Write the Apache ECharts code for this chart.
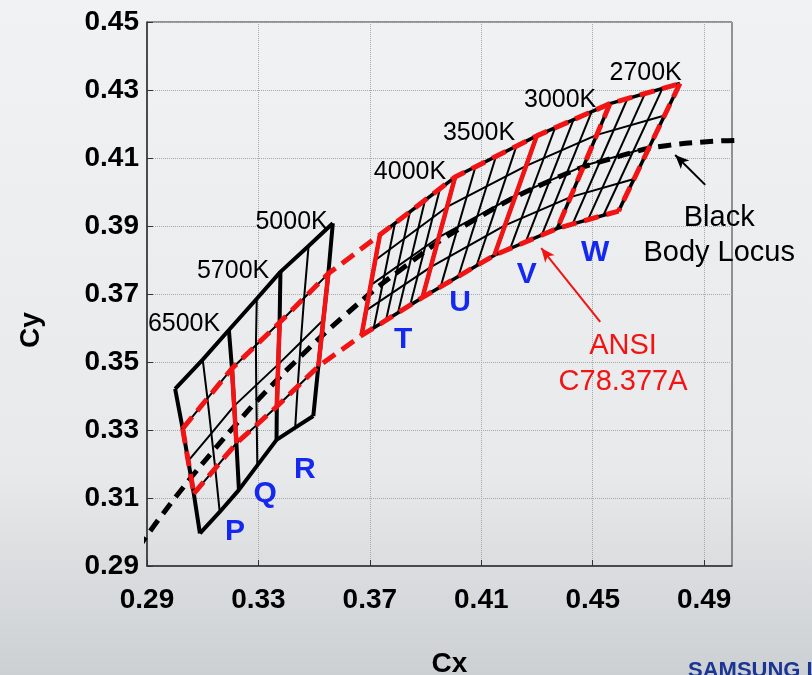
<!DOCTYPE html>
<html>
<head>
<meta charset="utf-8">
<script src="https://cdn.jsdelivr.net/npm/echarts@6/dist/echarts.min.js"></script>
<style>
  html, body { margin: 0; padding: 0; }
  #chart { width: 812px; height: 675px; }
</style>
</head>
<body>
<div id="chart"></div>
<script>
// ---- axes -------------------------------------------------------------
const xTicks = [0.29, 0.33, 0.37, 0.41, 0.45, 0.49];
const xMax = 0.50;
const yTicks = [0.29, 0.31, 0.33, 0.35, 0.37, 0.39, 0.41, 0.43, 0.45];

// ---- Planckian (black body) locus, CIE 1931 -----------------------------
const locusX = [0.2869, 0.2952, 0.3064, 0.3135, 0.3221, 0.3323, 0.3451, 0.3607, 0.3805, 0.4053, 0.4369, 0.4599, 0.4770, 0.5019];
const locusY = [0.2953, 0.3048, 0.3166, 0.3236, 0.3318, 0.3410, 0.3516, 0.3635, 0.3768, 0.3907, 0.4041, 0.4106, 0.4137, 0.4152];

// ---- ANSI C78.377A quadrangles: upper / lower corners, left to right ------
const ansiCct = ['6500K', '5700K', '5000K', '4000K', '3500K', '3000K', '2700K'];
const ansiUpper = [[0.3028, 0.3304], [0.3205, 0.3481], [0.3376, 0.3616], [0.3551, 0.3760],
                   [0.3736, 0.3874], [0.4006, 0.4044], [0.4299, 0.4165], [0.4562, 0.4260], [0.4813, 0.4319]];
const ansiLower = [[0.3068, 0.3113], [0.3221, 0.3261], [0.3366, 0.3369], [0.3515, 0.3487],
                   [0.3670, 0.3578], [0.3889, 0.3690], [0.4147, 0.3814], [0.4373, 0.3893], [0.4593, 0.3944]];

// ---- P / Q / R bins: seven CCT lines, five nodes each (top to bottom) ----
const pqrColumns = [
  [[0.3001, 0.3421], [0.3028, 0.3304], [0.3048, 0.3209], [0.3068, 0.3113], [0.3090, 0.2996]],
  [[0.3100, 0.3507], [0.3117, 0.3393], [0.3131, 0.3290], [0.3145, 0.3187], [0.3161, 0.3059]],
  [[0.3194, 0.3594], [0.3205, 0.3481], [0.3213, 0.3371], [0.3221, 0.3261], [0.3230, 0.3124]],
  [[0.3294, 0.3686], [0.3291, 0.3549], [0.3292, 0.3432], [0.3294, 0.3315], [0.3296, 0.3196]],
  [[0.3379, 0.3765], [0.3376, 0.3616], [0.3371, 0.3493], [0.3366, 0.3369], [0.3365, 0.3271]],
  [[0.3480, 0.3841], [0.3464, 0.3688], [0.3452, 0.3558], [0.3441, 0.3428], [0.3432, 0.3307]],
  [[0.3567, 0.3908], [0.3551, 0.3760], [0.3533, 0.3624], [0.3515, 0.3487], [0.3497, 0.3341]]
];

// ---- T / U / V / W sub-bins (4000K .. 2700K) -----------------------------
// Inner Duv rows, one node on each quadrangle boundary
const tuvwRows = [
  [[0.3720, 0.3800], [0.3977, 0.3956], [0.4261, 0.4077], [0.4515, 0.4168], [0.4758, 0.4225]],
  [[0.3703, 0.3726], [0.3948, 0.3867], [0.4223, 0.3990], [0.4468, 0.4077], [0.4703, 0.4132]],
  [[0.3687, 0.3652], [0.3918, 0.3779], [0.4185, 0.3902], [0.4420, 0.3985], [0.4648, 0.4038]]
];
// Inner CCT steps: [upper end, lower end]
const tuvwSteps = [
  [[0.3790, 0.3908], [0.3714, 0.3600]],
  [[0.3844, 0.3942], [0.3758, 0.3623]],
  [[0.3898, 0.3976], [0.3801, 0.3645]],
  [[0.3952, 0.4010], [0.3845, 0.3668]],
  [[0.4079, 0.4074], [0.3954, 0.3721]],
  [[0.4153, 0.4105], [0.4018, 0.3752]],
  [[0.4226, 0.4135], [0.4083, 0.3783]],
  [[0.4365, 0.4189], [0.4204, 0.3834]],
  [[0.4431, 0.4213], [0.4260, 0.3854]],
  [[0.4496, 0.4236], [0.4317, 0.3873]],
  [[0.4625, 0.4275], [0.4428, 0.3906]],
  [[0.4688, 0.4290], [0.4483, 0.3919]],
  [[0.4750, 0.4304], [0.4538, 0.3931]]
];

// ---- annotations ---------------------------------------------------------
const cctLabelAt = [[0.3033, 0.3612], [0.3209, 0.3768], [0.3419, 0.3910], [0.3844, 0.4059],
                    [0.4092, 0.4174], [0.4383, 0.4271], [0.4690, 0.4350]];
const binNames = ['P', 'Q', 'R', 'T', 'U', 'V', 'W'];
const binNameAt = [[0.3216, 0.3001], [0.3324, 0.3114], [0.3467, 0.3182], [0.3820, 0.3565],
                   [0.4024, 0.3673], [0.4263, 0.3756], [0.4509, 0.3820]];
const locusNote = 'Black\nBody Locus';
const locusNoteAt = [0.4954, 0.3871];
const locusArrow = [[0.4904, 0.4021], [0.4796, 0.4109]];
const ansiNote = 'ANSI\nC78.377A';
const ansiNoteAt = [0.4609, 0.3493];
const ansiArrow = [[0.4527, 0.3618], [0.4315, 0.3835]];

// ---- drawing -------------------------------------------------------------
const FONT = 'Liberation Sans, Arial, sans-serif';
const BLACK = '#000000';
const RED = '#f21414';
const BLUE = '#1428f0';

const series = [];
function path(points, color, width, type, z) {
  series.push({
    type: 'line', data: points, symbol: 'none', silent: true, animation: false,
    z: z, clip: true,
    lineStyle: { color: color, width: width, type: type || 'solid', cap: 'butt', join: 'round' }
  });
}

// P/Q/R grid
for (let r = 0; r < 5; r++) {
  path(pqrColumns.map(c => c[r]), BLACK, (r === 0 || r === 4) ? 4 : 2, 'solid', 2);
}
pqrColumns.forEach((c, i) => path(c, BLACK, (i % 2 === 0) ? 4 : 2, 'solid', 2));

// T/U/V/W grid
path(ansiUpper.slice(4), BLACK, 3.5, 'solid', 2);
path(ansiLower.slice(4), BLACK, 3.5, 'solid', 2);
tuvwRows.forEach(row => path(row, BLACK, 2, 'solid', 2));
for (let i = 4; i < ansiUpper.length; i++) path([ansiUpper[i], ansiLower[i]], BLACK, 3.5, 'solid', 2);
tuvwSteps.forEach(s => path(s, BLACK, 2, 'solid', 2));

// black body locus
series.push({
  type: 'line', data: locusX.map((x, i) => [x, locusY[i]]), symbol: 'none', smooth: true,
  silent: true, animation: false, z: 3, clip: true,
  lineStyle: { color: BLACK, width: 5, type: [13, 8], cap: 'butt' }
});

// ANSI quadrangles
const dashedSides = new Set([0, 7, 8]);
path(ansiUpper, RED, 5, [15, 8], 4);
path(ansiLower, RED, 5, [15, 8], 4);
ansiUpper.forEach((u, i) => {
  const dashed = dashedSides.has(i);
  path([u, ansiLower[i]], RED, dashed ? 5 : 4.5, dashed ? [15, 8] : 'solid', 4);
});

// arrows
function arrow(pts, color) {
  series.push({
    type: 'line', data: [], silent: true, animation: false, z: 5,
    markLine: {
      silent: true, animation: false, symbol: ['none', 'arrow'], symbolSize: [9, 14],
      label: { show: false },
      lineStyle: { color: color, width: 2, type: 'solid', opacity: 1 },
      data: [[{ coord: pts[0] }, { coord: pts[1] }]]
    }
  });
}
arrow(locusArrow, BLACK);
arrow(ansiArrow, RED);

// text labels
function labels(points, names, style) {
  series.push({
    type: 'scatter', symbolSize: 0, silent: true, animation: false, z: 6,
    itemStyle: { color: 'transparent', opacity: 1 },
    data: points.map((p, i) => ({ value: p, name: names[i] })),
    label: Object.assign({ show: true, position: 'inside', formatter: '{b}', fontFamily: FONT, opacity: 1,
                           textBorderWidth: 0, textBorderColor: 'transparent', textShadowBlur: 0 }, style)
  });
}
labels(cctLabelAt, ansiCct, { fontSize: 25, color: BLACK });
labels(binNameAt, binNames, { fontSize: 30, color: BLUE, fontWeight: 'bold' });
labels([locusNoteAt], [locusNote], { fontSize: 29, color: BLACK, lineHeight: 35, align: 'center' });
labels([ansiNoteAt], [ansiNote], { fontSize: 29, color: RED, lineHeight: 36, align: 'center' });

const chart = echarts.init(document.getElementById('chart'), null, { renderer: 'canvas' });
chart.setOption({
  animation: false,
  backgroundColor: new echarts.graphic.LinearGradient(0, 0, 0, 1, [
    { offset: 0, color: '#f1f2f3' },
    { offset: 0.7, color: '#e7e9ea' },
    { offset: 1, color: '#cdd0d3' }
  ]),
  textStyle: { fontFamily: FONT },
  grid: { left: 147, right: 80, top: 22, bottom: 109, show: true, borderColor: '#333', borderWidth: 1,
          backgroundColor: 'transparent', outerBoundsMode: 'none' },
  xAxis: {
    type: 'value', min: xTicks[0], max: xMax,
    axisLine: { show: true, onZero: false, lineStyle: { color: '#333', width: 1.5 } },
    axisTick: { show: true, inside: true, length: 6, customValues: xTicks, lineStyle: { color: '#333' } },
    axisLabel: { customValues: xTicks, formatter: v => v.toFixed(2), fontSize: 28, fontWeight: 'bold',
                 color: '#000', margin: 20, fontFamily: FONT },
    splitLine: { show: true, lineStyle: { type: 'dotted', color: '#a8a8a8', width: 1 } },
    name: 'Cx', nameLocation: 'middle', nameGap: 84,
    nameTextStyle: { fontSize: 28, fontWeight: 'bold', color: '#000', padding: [0, 0, 0, 20], fontFamily: FONT }
  },
  yAxis: {
    type: 'value', min: yTicks[0], max: yTicks[yTicks.length - 1],
    axisLine: { show: true, onZero: false, lineStyle: { color: '#333', width: 1.5 } },
    axisTick: { show: true, inside: true, length: 6, customValues: yTicks, lineStyle: { color: '#333' } },
    axisLabel: { customValues: yTicks, formatter: v => v.toFixed(2), fontSize: 28, fontWeight: 'bold',
                 color: '#000', margin: 8, fontFamily: FONT },
    splitLine: { show: true, lineStyle: { type: 'dotted', color: '#a8a8a8', width: 1 } },
    name: 'Cy', nameLocation: 'middle', nameGap: 102, nameRotate: 90,
    nameTextStyle: { fontSize: 28, fontWeight: 'bold', color: '#000', padding: [0, 72, 0, 0], fontFamily: FONT }
  },
  graphic: [
    { type: 'text', left: 688, top: 660, silent: true,
      style: { text: 'SAMSUNG LED', fontSize: 22, fontWeight: 'bold', fill: '#1b3593', fontFamily: FONT } }
  ],
  series: series
});
</script>
</body>
</html>
